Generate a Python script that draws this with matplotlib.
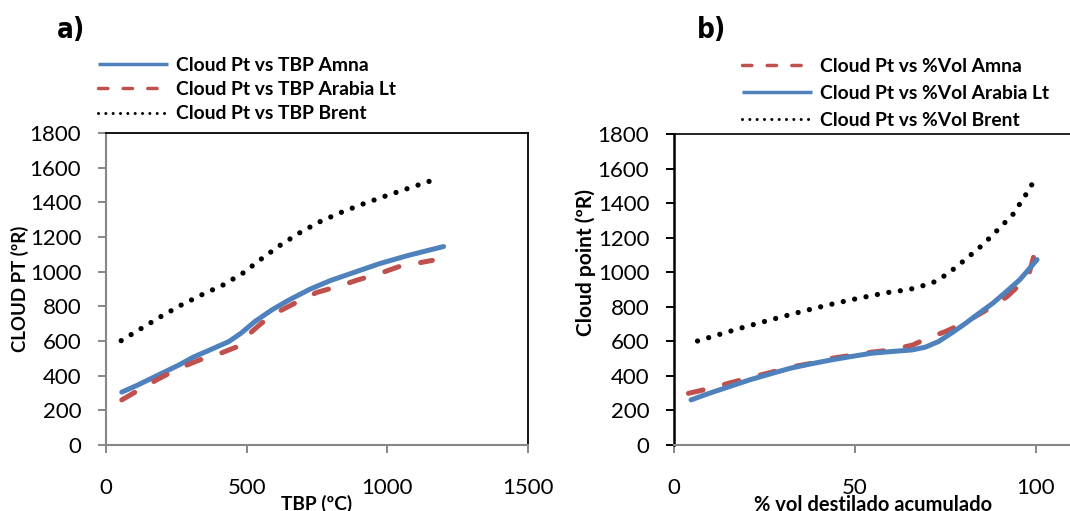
import matplotlib
matplotlib.use("Agg")
import matplotlib.pyplot as plt
from matplotlib.lines import Line2D

plt.rcParams['font.family'] = ['Lato', 'DejaVu Sans']

# ---- a) Cloud point vs TBP (ºC) ----
tbp_amna = [56, 113, 186, 260, 309, 370, 437, 480, 529, 590, 651, 725, 798, 884, 970, 1068, 1153, 1200]
cp_tbp_amna = [305, 346, 404, 462, 506, 549, 597, 645, 712, 780, 837, 899, 949, 997, 1045, 1091, 1126, 1145]

tbp_arabia = [56, 113, 186, 260, 333, 407, 468, 505, 553, 602, 676, 749, 823, 896, 970, 1043, 1160]
cp_tbp_arabia = [260, 314, 381, 443, 491, 529, 568, 635, 703, 760, 822, 880, 914, 953, 988, 1030, 1065]

tbp_brent = [54, 125, 195, 267, 342, 415, 486, 551, 616, 686, 757, 833, 909, 986, 1064, 1141, 1185]
cp_tbp_brent = [602, 672, 741, 807, 868, 922, 991, 1072, 1149, 1222, 1286, 1340, 1388, 1432, 1475, 1517, 1540]

# ---- b) Cloud point vs % vol destilado ----
vol_amna = [4, 10, 15, 21, 26.5, 32, 38, 43, 49, 54.5, 60, 66, 70, 75, 80, 84, 88, 92, 95.5, 98, 100]
cp_vol_amna = [299, 328, 357, 390, 419, 450, 473, 500, 519, 537, 550, 579, 618, 657, 705, 753, 801, 859, 927, 985, 1140]

vol_arabia = [4.7, 9.7, 15.3, 20.9, 26.5, 32.1, 37.7, 43.3, 48.9, 54.5, 60.1, 65.7, 69.4, 73.1, 76.9, 80.6, 84.3, 88.1, 91.8, 95.5, 100.3]
cp_vol_arabia = [261, 299, 338, 377, 411, 444, 469, 492, 512, 531, 541, 550, 566, 599, 651, 705, 763, 821, 888, 956, 1073]

vol_brent = [6.5, 12.7, 19.0, 25.2, 30.0, 36.3, 42.3, 48.4, 52.8, 58.9, 65.0, 71.3, 75.5, 80.4, 85.3, 89.8, 93.6, 97.1, 99.0]
cp_vol_brent = [602, 641, 680, 716, 743, 778, 809, 838, 857, 882, 900, 937, 989, 1072, 1159, 1253, 1334, 1446, 1512]

labels_a = ['Cloud Pt vs TBP Amna', 'Cloud Pt vs TBP Arabia Lt', 'Cloud Pt vs TBP Brent']
labels_b = ['Cloud Pt vs %Vol Amna', 'Cloud Pt vs %Vol Arabia Lt', 'Cloud Pt vs %Vol Brent']

BLUE = '#4F81BD'
RED = '#C0504D'
GREY = '#878787'

W, H = 1070, 511
fig = plt.figure(figsize=(W / 100, H / 100), dpi=100)
axL = fig.add_axes([106 / W, 66 / H, 422 / W, 312 / H])
axR = fig.add_axes([674 / W, 66 / H, 543 / W, 311 / H])

solid = dict(color=BLUE, lw=3.6, solid_capstyle='round', solid_joinstyle='round')
dashed = dict(color=RED, lw=3.6, dashes=(3, 4.4), dash_capstyle='round')
dotted = dict(color='black', lw=3.8, dashes=(0.001, 2.2), dash_capstyle='round')

axL.plot(tbp_amna, cp_tbp_amna, **solid)
axL.plot(tbp_arabia, cp_tbp_arabia, **dashed)
axL.plot(tbp_brent, cp_tbp_brent, **dotted)

axR.plot(vol_amna, cp_vol_amna, **dashed)
axR.plot(vol_arabia, cp_vol_arabia, **solid)
axR.plot(vol_brent, cp_vol_brent, **dotted)

axL.set_xlim(0, 1500)
axL.set_xticks([0, 500, 1000, 1500])
axR.set_xlim(0, 150)
axR.set_xticks([0, 50, 100])
for ax in (axL, axR):
    ax.set_ylim(0, 1800)
    ax.set_yticks(range(0, 1801, 200))
    ax.tick_params(axis='both', direction='out', length=5.8, width=1.4,
                   labelsize=16, colors=GREY, labelcolor='black')
    ax.tick_params(axis='y', pad=12)
    ax.tick_params(axis='x', pad=18)

# frame styling
for side in ('left', 'bottom'):
    axL.spines[side].set_color(GREY)
    axL.spines[side].set_linewidth(1.5)
for side in ('top', 'right'):
    axL.spines[side].set_color('black')
    axL.spines[side].set_linewidth(1.3)
axR.spines['left'].set_color('black')
axR.spines['left'].set_linewidth(1.8)
axR.spines['top'].set_color('black')
axR.spines['top'].set_linewidth(1.2)
axR.spines['bottom'].set_color(GREY)
axR.spines['bottom'].set_linewidth(1.5)
axR.tick_params(axis='y', colors='black', labelcolor='black')

axL.set_ylabel('CLOUD PT (ºR)', fontsize=13.4, fontweight='bold')
axL.yaxis.set_label_coords(-0.1825, 0.5)
axL.set_xlabel('TBP (ºC)', fontsize=13.8, fontweight='bold')
axL.xaxis.set_label_coords(0.5, -0.16)

axR.set_ylabel('Cloud point (ºR)', fontsize=15, fontweight='bold')
axR.yaxis.set_label_coords(-0.1436, 0.588)
axR.set_xlabel('% vol destilado acumulado', fontsize=14.5, fontweight='bold')
axR.xaxis.set_label_coords(0.366, -0.162)

# legends with slimmer proxy lines
l_solid = dict(color=BLUE, lw=2.5, solid_capstyle='butt')
l_dashed = dict(color=RED, lw=2.5, dashes=(2.7, 4.4), dash_capstyle='round')
l_dotted = dict(color='black', lw=2.2, dashes=(0.001, 2.4), dash_capstyle='round')

hL = [Line2D([], [], **l_solid), Line2D([], [], **l_dashed), Line2D([], [], **l_dotted)]
hR = [Line2D([], [], **l_dashed), Line2D([], [], **l_solid), Line2D([], [], **l_dotted)]

leg_kw = dict(loc='upper left', frameon=False, borderpad=0, borderaxespad=0,
              handlelength=3.63, handletextpad=0.41,
              prop={'weight': 'bold', 'size': 13.9}, bbox_transform=fig.transFigure)
axL.legend(hL, labels_a, bbox_to_anchor=(98 / W, 1 - 57 / H), labelspacing=0.37, **leg_kw)
axR.legend(hR, labels_b, bbox_to_anchor=(742 / W, 1 - 58 / H), labelspacing=0.52, **leg_kw)

panel_font = dict(fontsize=20, fontweight='bold', family=['DejaVu Sans'], fontstretch='condensed')
fig.text(57 / W, 1 - 38 / H, 'a)', va='baseline', ha='left', **panel_font)
fig.text(697 / W, 1 - 38 / H, 'b)', va='baseline', ha='left', **panel_font)

fig.savefig('out.png', dpi=100)
